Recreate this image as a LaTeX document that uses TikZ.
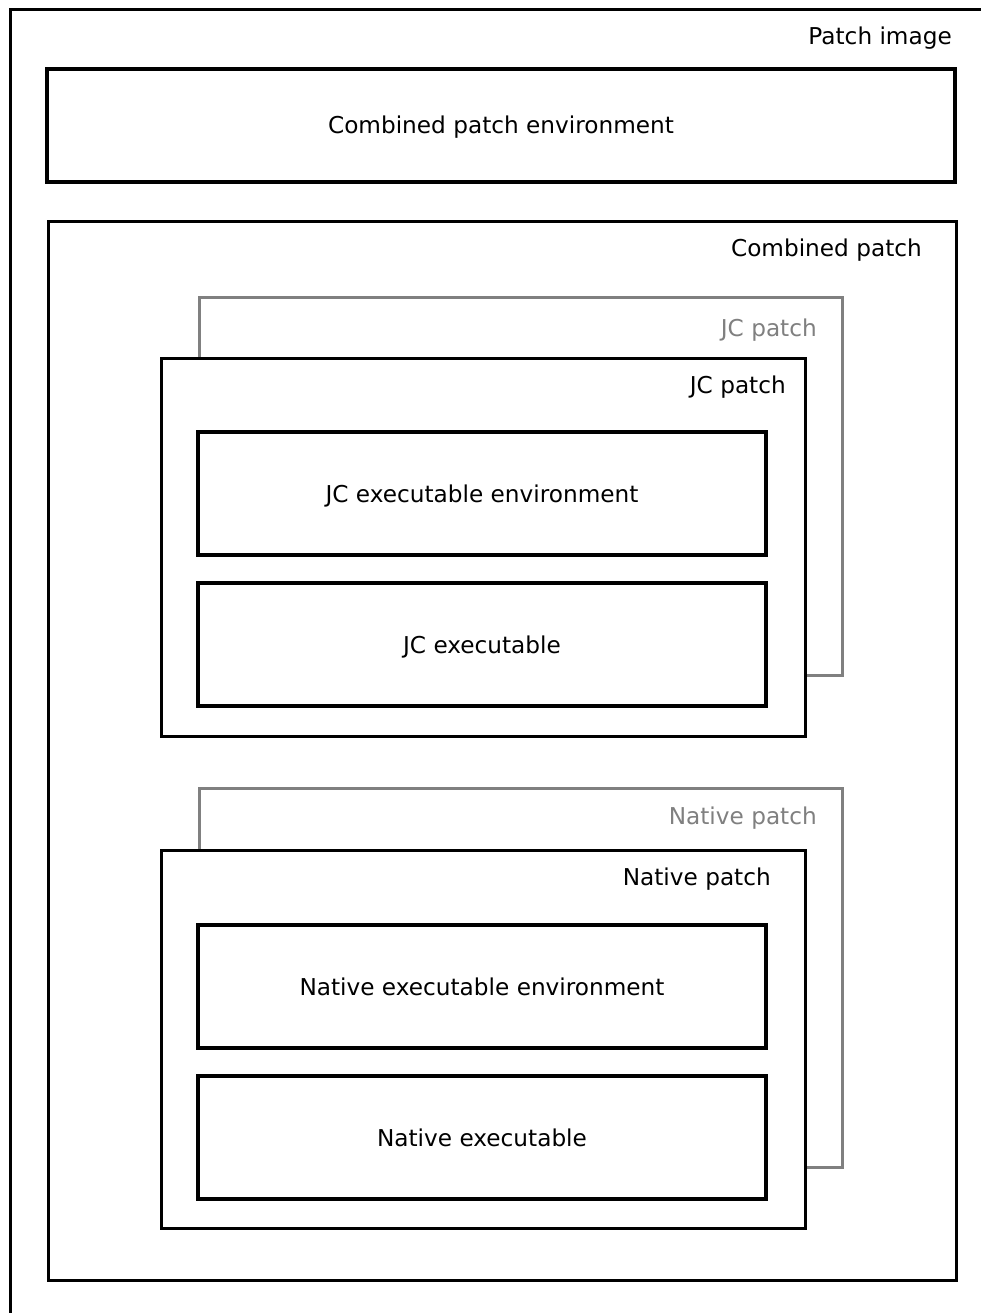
\documentclass[tikz,border=0pt]{standalone}
\usepackage{fontspec}
\setmainfont{DejaVu Sans}
\definecolor{backgray}{RGB}{128,128,128}
\begin{document}
\begin{tikzpicture}[x=1pt,y=-1pt,
  font=\fontsize{23.2}{28}\selectfont,
  frame/.style={draw=black, line width=3.2pt, fill=white, rectangle, inner sep=0pt},
  backframe/.style={draw=backgray, line width=3.2pt, fill=white, rectangle, inner sep=0pt},
  box/.style={frame, text height=17pt, text depth=0pt},
  lbl/.style={anchor=base east, inner sep=0pt},
  backlbl/.style={lbl, text=backgray},
]
% page area
\clip (0,0) rectangle (981,1313);
\fill[white] (0,0) rectangle (981,1313);

% outermost frame: the patch image (runs past the page edges)
\node[frame, fill=none, minimum width=1000pt, minimum height=1330pt, anchor=north west] (image) at (9,8) {};
\node[lbl] (imagelbl) at (952,45) {Patch image};

% combined patch environment
\node[box, minimum width=908pt, minimum height=113pt] (cenv) at (501,125.5) {Combined patch environment};

% combined patch
\node[frame, minimum width=908pt, minimum height=1059pt, anchor=north west] (combined) at (47,220) {};
\node[lbl] (combinedlbl) at (922,257) {Combined patch};

% JC patch: stacked copy behind, then the front one
\node[backframe, minimum width=643pt, minimum height=378pt, anchor=north west] (jcback) at (198,296) {};
\node[backlbl] (jcbacklbl) at (817,336) {JC patch};
\node[frame, minimum width=644pt, minimum height=378pt, anchor=north west] (jc) at (160,357) {};
\node[lbl] (jclbl) at (786,393.5) {JC patch};
\node[box, minimum width=568pt, minimum height=123pt] (jcenv) at (482,493.5) {JC executable environment};
\node[box, minimum width=568pt, minimum height=123pt] (jcexe) at (482,644.5) {JC executable};

% Native patch: stacked copy behind, then the front one
\node[backframe, minimum width=643pt, minimum height=379pt, anchor=north west] (nback) at (198,787) {};
\node[backlbl] (nbacklbl) at (817,824.5) {Native patch};
\node[frame, minimum width=644pt, minimum height=378pt, anchor=north west] (native) at (160,849) {};
\node[lbl] (nativelbl) at (771,885.5) {Native patch};
\node[box, minimum width=568pt, minimum height=123pt] (nenv) at (482,986.5) {Native executable environment};
\node[box, minimum width=568pt, minimum height=123pt] (nexe) at (482,1137.5) {Native executable};
\end{tikzpicture}
\end{document}
